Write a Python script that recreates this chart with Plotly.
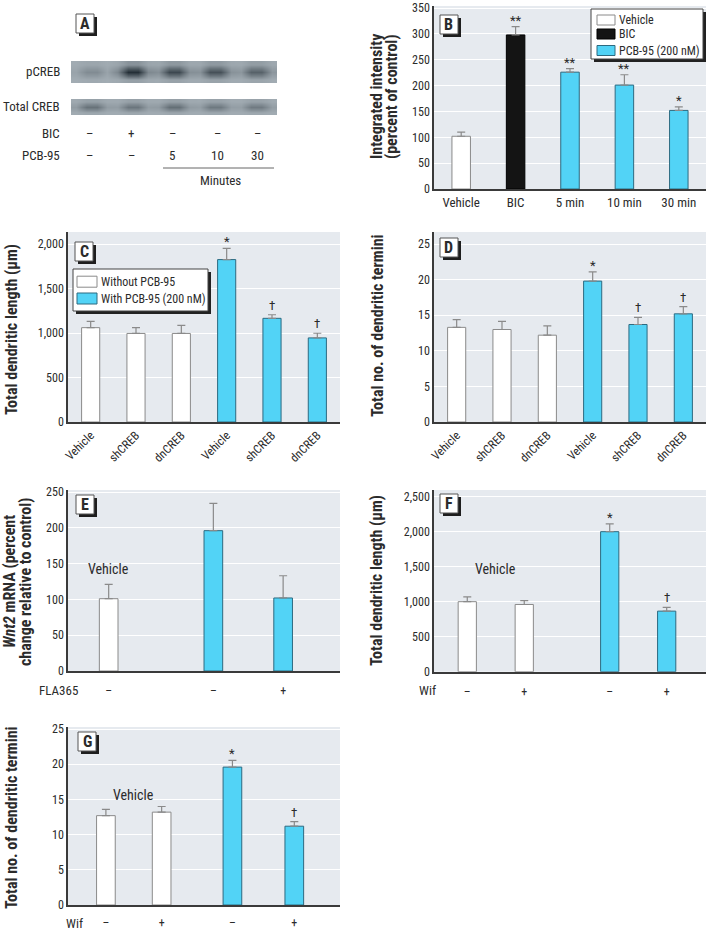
import plotly.graph_objects as go

W, H = 706, 930
FONT = "Liberation Sans Narrow, Roboto Condensed, Arial Narrow, Roboto, sans-serif"
TXT = "#2b2b2b"
BG = "#e6eaef"

# panel A: western blot lanes and band darkness (0 light .. 1 dark)
lane_bic = ["–", "+", "–", "–", "–"]
lane_pcb = ["–", "–", "5", "10", "30"]
pcreb_band = [0.45, 1.0, 0.85, 0.8, 0.7]
total_band = [0.6, 0.58, 0.62, 0.56, 0.55]
strip_bg = 0.25

# panel B
b_cats = ["Vehicle", "BIC", "5 min", "10 min", "30 min"]
b_group = ["Vehicle", "BIC", "PCB-95 (200 nM)", "PCB-95 (200 nM)", "PCB-95 (200 nM)"]
b_vals = [102, 298, 226, 201, 152]
b_err = [8, 16, 7, 20, 7]
b_marks = ["", "**", "**", "**", "*"]

# panels C and D
creb_labels = ["Vehicle", "shCREB", "dnCREB", "Vehicle", "shCREB", "dnCREB"]
creb_pcb = [False, False, False, True, True, True]
c_vals = [1060, 995, 995, 1825, 1165, 945]
c_err = [70, 65, 90, 125, 40, 52]
d_vals = [13.3, 13.0, 12.2, 19.8, 13.7, 15.2]
d_err = [1.1, 1.15, 1.3, 1.3, 1.0, 1.0]
cd_marks = ["", "", "", "*", "†", "†"]
c_legend = ["Without PCB-95", "With PCB-95 (200 nM)"]

# panel E
e_ticks = ["–", "–", "+"]
e_pos = [0, 3, 5]
e_pcb = [False, True, True]
e_vals = [101, 196, 102]
e_err = [20, 38, 31]

# panels F and G
wif_ticks = ["–", "+", "–", "+"]
wif_pcb = [False, False, True, True]
f_pos = [0, 1, 2.5, 3.5]
f_vals = [1000, 960, 2000, 865]
f_err = [70, 55, 110, 55]
g_pos = [0, 1, 2.27, 3.38]
g_vals = [12.7, 13.2, 19.6, 11.2]
g_err = [0.9, 0.8, 0.95, 0.65]
fg_marks = ["", "", "*", "†"]

STYLE = {
    "white": dict(color="white", line=dict(color="#8a8a8a", width=1)),
    "black": dict(color="#141414", line=dict(color="#000000", width=1)),
    "blue": dict(color="#52d3f6", line=dict(color="#2d6a80", width=1)),
}
B_STYLE = {"Vehicle": "white", "BIC": "black", "PCB-95 (200 nM)": "blue"}


def px_x(a, b):
    return [a / W, b / W]


def px_y(top, bottom):
    return [1 - bottom / H, 1 - top / H]


def bars(fig, x, y, err, style, n, width=0.4):
    fig.add_trace(go.Bar(
        x=x, y=y, width=width, marker=STYLE[style], showlegend=False,
        error_y=dict(type="data", array=err, arrayminus=[0] * len(err), symmetric=False,
                     color="#8a8a8a", thickness=1.2, width=4),
        xaxis="x" + n, yaxis="y" + n,
    ))


def marks(fig, x, y, err, labels, n):
    for xi, yi, ei, m in zip(x, y, err, labels):
        if m:
            # asterisks sit high in the glyph box, daggers do not
            fig.add_annotation(x=xi, y=yi + ei, text=m, showarrow=False, xanchor="center",
                               yanchor="bottom", yshift=-3 if "*" in m else 0,
                               xref="x" + n, yref="y" + n, font=dict(size=13, color=TXT))


fig = go.Figure()

# ---- panel B
for grp in B_STYLE:
    idx = [i for i, g in enumerate(b_group) if g == grp]
    bars(fig, [b_cats[i] for i in idx], [b_vals[i] for i in idx], [b_err[i] for i in idx],
         B_STYLE[grp], "", width=0.34)
marks(fig, b_cats, b_vals, b_err, b_marks, "")

# ---- panels C and D
xs = list(range(len(creb_labels)))
for n, vals, errs in [("2", c_vals, c_err), ("3", d_vals, d_err)]:
    for flag, style in [(False, "white"), (True, "blue")]:
        idx = [i for i, p in enumerate(creb_pcb) if p == flag]
        bars(fig, [xs[i] for i in idx], [vals[i] for i in idx], [errs[i] for i in idx], style, n)
    marks(fig, xs, vals, errs, cd_marks, n)

# ---- panels E, F, G
for n, pos, flags, vals, errs, w in [("4", e_pos, e_pcb, e_vals, e_err, 0.535),
                                     ("5", f_pos, wif_pcb, f_vals, f_err, 0.32),
                                     ("6", g_pos, wif_pcb, g_vals, g_err, 0.335)]:
    for flag, style in [(False, "white"), (True, "blue")]:
        idx = [i for i, p in enumerate(flags) if p == flag]
        bars(fig, [pos[i] for i in idx], [vals[i] for i in idx], [errs[i] for i in idx], style, n, width=w)
marks(fig, f_pos, f_vals, f_err, fg_marks, "5")
marks(fig, g_pos, g_vals, g_err, fg_marks, "6")


# ---- panel A blot (two strips drawn as smoothed heatmaps)
def blot_row(bands, scale):
    row = []
    for v in bands:
        row += [strip_bg + (v - strip_bg) * 0.3 * scale, strip_bg + (v - strip_bg) * scale,
                strip_bg + (v - strip_bg) * scale, strip_bg + (v - strip_bg) * 0.3 * scale]
    return row


for n, bands in [("7", pcreb_band), ("8", total_band)]:
    z = [blot_row(bands, 0.1), blot_row(bands, 0.95), blot_row(bands, 0.2)]
    fig.add_trace(go.Heatmap(
        z=z, zmin=0, zmax=1, zsmooth="best", showscale=False, hoverinfo="skip",
        colorscale=[[0, "#c9d0d5"], [0.25, "#a3adb4"], [1, "#1d2830"]],
        xaxis="x" + n, yaxis="y" + n,
    ))

axis_line = dict(showline=True, linecolor="#3a3a3a", linewidth=1.5, ticks="", zeroline=False,
                 automargin=False, tickfont=dict(size=12, color=TXT))


def yax(n, domain, rng, dtick, fmt=""):
    return dict(axis_line, domain=domain, range=rng, dtick=dtick, anchor="x" + n,
                showgrid=True, gridcolor="white", gridwidth=1, tickformat=fmt)


def xax(n, domain, rng, **kw):
    d = dict(axis_line, domain=domain, anchor="y" + n, showgrid=False, range=rng)
    d.update(kw)
    return d


n_cols = 4 * len(pcreb_band)
fig.update_layout(
    width=W, height=H, template="none", margin=dict(l=0, r=0, t=0, b=0),
    paper_bgcolor="white", plot_bgcolor=BG, barmode="overlay", showlegend=False,
    font=dict(family=FONT, color=TXT, size=12),
    xaxis=xax("", px_x(434, 706), [-0.5, 4.5], ticklabelstandoff=1, tickfont=dict(size=13, color=TXT)),
    yaxis=yax("", px_y(6, 189), [0, 354], 50),
    xaxis2=xax("2", px_x(68, 340), [-0.5, 5.5], tickvals=xs, ticktext=creb_labels, tickangle=-45),
    yaxis2=yax("2", px_y(232, 422), [0, 2135], 500, ",d"),
    xaxis3=xax("3", px_x(434, 706), [-0.5, 5.5], tickvals=xs, ticktext=creb_labels, tickangle=-45),
    yaxis3=yax("3", px_y(232, 422), [0, 26.7], 5),
    xaxis4=xax("4", px_x(68, 340), [-1.166, 6.63], tickvals=e_pos, ticktext=e_ticks, ticklabelstandoff=8),
    yaxis4=yax("4", px_y(490, 671), [0, 252.8], 50),
    xaxis5=xax("5", px_x(434, 706), [-0.584, 4.19], tickvals=f_pos, ticktext=wif_ticks, ticklabelstandoff=8),
    yaxis5=yax("5", px_y(490, 671.7), [0, 2595], 500, ",d"),
    xaxis6=xax("6", px_x(68, 340), [-0.68, 4.2], tickvals=g_pos, ticktext=wif_ticks, ticklabelstandoff=6),
    yaxis6=yax("6", px_y(727, 905), [0, 25.3], 5),
    xaxis7=dict(domain=px_x(71, 277), anchor="y7", visible=False, range=[-0.5, n_cols - 0.5]),
    yaxis7=dict(domain=px_y(61, 83), anchor="x7", visible=False, range=[-0.5, 2.5]),
    xaxis8=dict(domain=px_x(71, 277), anchor="y8", visible=False, range=[-0.5, n_cols - 0.5]),
    yaxis8=dict(domain=px_y(99, 115), anchor="x8", visible=False, range=[-0.5, 2.5]),
)

shapes = []
annots = []


def paper_rect(x0, y0, x1, y1, **kw):
    return dict(type="rect", xref="paper", yref="paper", x0=x0 / W, x1=x1 / W,
                y0=1 - y1 / H, y1=1 - y0 / H, **kw)


def paper_text(text, x, y, size=13, xanchor="center", **kw):
    return dict(x=x / W, y=1 - y / H, xref="paper", yref="paper", text=text, showarrow=False,
                xanchor=xanchor, yanchor="middle", font=dict(size=size, color=TXT), **kw)


# blot strip backgrounds
for y0, y1 in [(61, 83), (99, 115)]:
    shapes.append(paper_rect(71, y0, 277, y1, fillcolor="#a5afb6", line_width=0, layer="below"))

# y-axis titles (one annotation per line so the line pitch stays tight)
for text, x, y in [("Integrated intensity", 377, 97), ("(percent of control)", 392, 97),
                   ("Total dendritic length (µm)", 11, 330),
                   ("Total no. of dendritic termini", 377, 326),
                   ("<i>Wnt2</i> mRNA (percent", 9, 582), ("change relative to control)", 25, 582),
                   ("Total dendritic length (µm)", 376, 581),
                   ("Total no. of dendritic termini", 11, 818)]:
    annots.append(paper_text("<b>" + text + "</b>", x, y, size=16, textangle=-90))

# hand-drawn legends with drop shadow (B and C)
legends = [((591, 9, 703, 59), [(g, B_STYLE[g], yc) for g, yc in zip(B_STYLE, [20, 34, 50.5])],
            (597, 615), 10),
           ((73, 269, 208, 311), [(c_legend[0], "white", 281.7), (c_legend[1], "blue", 298.5)],
            (77, 97), 11)]
for (x0, y0, x1, y1), entries, (sx0, sx1), sh in legends:
    shapes.append(paper_rect(x0 + 3, y0 + 3, x1 + 3, y1 + 3, fillcolor="#222", line_width=0, layer="above"))
    shapes.append(paper_rect(x0, y0, x1, y1, fillcolor="white", line=dict(color="#444", width=1),
                             layer="above"))
    for label, style, yc in entries:
        st = STYLE[style]
        shapes.append(paper_rect(sx0, yc - sh / 2, sx1, yc + sh / 2, fillcolor=st["color"],
                                 line=dict(color=st["line"]["color"], width=1), layer="above"))
        annots.append(paper_text(label, sx1 + 2, yc, size=12, xanchor="left"))

# panel letter boxes with drop shadow
for letter, x0, y0 in [("A", 76, 14), ("B", 440, 15), ("C", 75, 242), ("D", 440, 238),
                       ("E", 76, 495), ("F", 440, 494), ("G", 78, 732)]:
    w, h = 18, 19
    shapes.append(paper_rect(x0 + 3, y0 + 3, x0 + w + 3, y0 + h + 3, fillcolor="#1e1e1e", line_width=0,
                             layer="above"))
    shapes.append(paper_rect(x0, y0, x0 + w, y0 + h, fillcolor="white", line=dict(color="#555", width=1),
                             layer="above"))
    annots.append(paper_text("<b>" + letter + "</b>", x0 + w / 2, y0 + h / 2, size=16))

# panel A labels
lane_x = [89, 131, 172, 217, 257]
for text, y in [("pCREB", 72), ("Total CREB", 107), ("BIC", 134), ("PCB-95", 156)]:
    annots.append(paper_text(text, 62, y, xanchor="right"))
for lx, b, p in zip(lane_x, lane_bic, lane_pcb):
    annots.append(paper_text(b, lx, 134))
    annots.append(paper_text(p, lx, 156))
shapes.append(dict(type="line", xref="paper", yref="paper", x0=163 / W, x1=274 / W,
                   y0=1 - 168 / H, y1=1 - 168 / H, line=dict(color="#666", width=1)))
annots.append(paper_text("Minutes", 221, 180))

# "Vehicle" captions and row labels under E, F, G
for x, y, n in [(e_pos[0], 142, "4"), ((f_pos[0] + f_pos[1]) / 2, 1467, "5"),
                ((g_pos[0] + g_pos[1]) / 2, 15.6, "6")]:
    annots.append(dict(x=x, y=y, xref="x" + n, yref="y" + n, text="Vehicle", showarrow=False,
                       xanchor="center", yanchor="middle", font=dict(size=14, color=TXT)))
for text, xr, y in [("FLA365", 80, 690.7), ("Wif", 438, 690.7), ("Wif", 85, 923)]:
    annots.append(paper_text(text, xr, y, xanchor="right"))

fig.update_layout(shapes=shapes)
for a in annots:
    fig.add_annotation(**a)

fig.write_html("out.html", config={"displayModeBar": False},
               post_script="document.body.style.margin = '0';")
